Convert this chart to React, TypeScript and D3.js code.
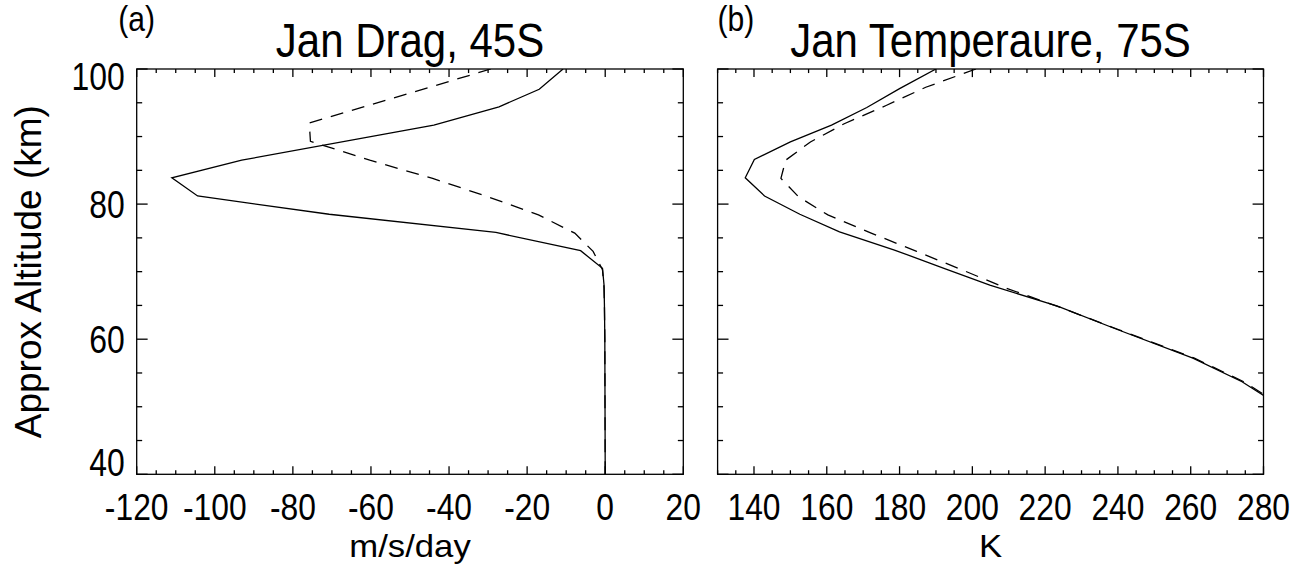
import React from 'react';
import * as d3 from 'd3';

// Axis tick values
const altitudeTicks = [40, 60, 80, 100];
const dragTicks = [-120, -100, -80, -60, -40, -20, 0, 20];
const tempTicks = [140, 160, 180, 200, 220, 240, 260, 280];

// Panel (a): January gravity-wave drag at 45S (m/s/day)
const dragSolidAlt = [100, 97.0, 94.4, 91.7, 86.5, 83.9, 81.2, 78.5, 75.8, 73.1, 70.5, 68.0, 65.0, 60.0, 50.0, 40.0];
const dragSolidVal = [-10.8, -16.9, -27.2, -43.9, -93.1, -111.0, -104.4, -70.7, -28.0, -6.3, -0.7, -0.3, -0.2, -0.1, -0.05, 0];
const dragDashAlt = [100, 92.0, 89.3, 86.5, 83.8, 81.1, 78.4, 75.7, 73.0, 70.3, 67.6, 65.0, 60.0, 50.0, 40.0];
const dragDashVal = [-29.3, -75.8, -75.5, -60.3, -44.2, -30.1, -17.1, -7.8, -3.1, -0.7, -0.3, -0.2, -0.1, -0.05, 0];

// Panel (b): January temperature at 75S (K)
const tempSolidAlt = [100, 97.1, 94.3, 91.7, 89.2, 86.6, 83.9, 81.2, 78.5, 75.9, 73.2, 70.5, 68.0, 64.9, 61.4, 57.2, 53.7, 51.0];
const tempSolidVal = [190, 180, 171, 161.3, 150, 140.1, 137.6, 142.9, 152.6, 163.5, 178.6, 192.2, 204.8, 223.4, 240, 260.6, 274.1, 282];
const tempDashAlt = [100, 97.3, 94.6, 91.9, 89.2, 86.5, 83.8, 81.1, 78.4, 75.7, 73.0, 70.3, 67.6, 64.9, 61.4, 57.2, 53.7, 51.0];
const tempDashVal = [201, 187.2, 176.3, 164.8, 155.5, 148.7, 147.4, 152.2, 160.3, 172.2, 184.7, 197.0, 209.1, 223.2, 240.3, 261.0, 274.6, 282.5];

const W = 1305;
const H = 565;
const FONT = '"Liberation Sans", Arial, Helvetica, sans-serif';
const PLOT_TOP = 69;
const PLOT_BOTTOM = 474.3;
const STROKE = 1.3;

// Narrow-set text: the glyphs are squeezed horizontally by sx around the anchor point
function NText(props: {
  x: number;
  y: number;
  size: number;
  sx: number;
  anchor?: 'start' | 'middle' | 'end';
  children: React.ReactNode;
}) {
  return (
    <text
      transform={`translate(${props.x},${props.y}) scale(${props.sx},1)`}
      textAnchor={props.anchor || 'start'}
      fontSize={props.size}
      fontFamily={FONT}
      fill="#000"
    >
      {props.children}
    </text>
  );
}

type Series = { alt: number[]; val: number[]; dashed: boolean };

type PanelProps = {
  id: string;
  x0: number;
  x1: number;
  domain: [number, number];
  ticks: number[];
  series: Series[];
  title: string;
  tag: string;
  tagX: number;
  tagAnchor: 'start' | 'middle';
  xTitle: string;
  showYLabels: boolean;
};

const yScale = d3.scaleLinear().domain([40, 100]).range([PLOT_BOTTOM, PLOT_TOP]);

function Panel(p: PanelProps) {
  const xs = d3.scaleLinear().domain(p.domain).range([p.x0, p.x1]);
  const width = p.x1 - p.x0;
  const height = PLOT_BOTTOM - PLOT_TOP;
  const xMajorLen = 0.02 * height;
  const yMajorLen = 0.02 * width;
  const xMinor = d3.range(p.domain[0], p.domain[1] + 0.001, 5);
  const yMinor = d3.range(40, 100.001, 5);
  const line = d3
    .line<[number, number]>()
    .x((d) => xs(d[1]))
    .y((d) => yScale(d[0]));
  const cx = (p.x0 + p.x1) / 2;

  return (
    <g>
      <defs>
        <clipPath id={`clip-${p.id}`}>
          <rect x={p.x0} y={PLOT_TOP} width={width} height={height} />
        </clipPath>
      </defs>
      <g clipPath={`url(#clip-${p.id})`}>
        {p.series.map((s, i) => (
          <path
            key={i}
            d={line(s.alt.map((a, k) => [a, s.val[k]] as [number, number])) || ''}
            fill="none"
            stroke="#000"
            strokeWidth={STROKE}
            strokeDasharray={s.dashed ? '13,9' : undefined}
            strokeLinejoin="miter"
          />
        ))}
      </g>
      {/* x ticks, bottom and top */}
      {xMinor.map((v) => {
        const major = p.ticks.includes(v);
        const len = major ? xMajorLen : xMajorLen / 2;
        const x = xs(v);
        return (
          <g key={`xt${v}`} stroke="#000" strokeWidth={STROKE}>
            <line x1={x} x2={x} y1={PLOT_BOTTOM} y2={PLOT_BOTTOM - len} />
            <line x1={x} x2={x} y1={PLOT_TOP} y2={PLOT_TOP + len} />
          </g>
        );
      })}
      {/* y ticks, left and right */}
      {yMinor.map((v) => {
        const major = altitudeTicks.includes(v);
        const len = major ? yMajorLen : yMajorLen / 2;
        const y = yScale(v);
        return (
          <g key={`yt${v}`} stroke="#000" strokeWidth={STROKE}>
            <line x1={p.x0} x2={p.x0 + len} y1={y} y2={y} />
            <line x1={p.x1} x2={p.x1 - len} y1={y} y2={y} />
          </g>
        );
      })}
      <rect x={p.x0} y={PLOT_TOP} width={width} height={height} fill="none" stroke="#000" strokeWidth={STROKE} />
      {/* tick labels */}
      {p.ticks.map((v) => (
        <NText key={`xl${v}`} x={xs(v)} y={520} size={37} sx={0.86} anchor="middle">
          {String(v)}
        </NText>
      ))}
      {p.showYLabels &&
        altitudeTicks.map((v) => {
          const base = Math.min(Math.max(yScale(v) + 14, PLOT_TOP + 21), PLOT_BOTTOM + 2);
          return (
            <NText key={`yl${v}`} x={p.x0 - 12} y={base} size={38} sx={0.84} anchor="end">
              {String(v)}
            </NText>
          );
        })}
      <NText x={cx} y={556.5} size={31} sx={1.12} anchor="middle">
        {p.xTitle}
      </NText>
      <NText x={cx} y={57} size={48} sx={0.875} anchor="middle">
        {p.title}
      </NText>
      <NText x={p.tagX} y={31} size={35} sx={0.86} anchor={p.tagAnchor}>
        {p.tag}
      </NText>
    </g>
  );
}

export default function App() {
  return (
    <svg
      width={W}
      height={H}
      viewBox={`0 0 ${W} ${H}`}
      style={{ position: 'absolute', left: 0, top: 0, background: '#fff' }}
    >
      <rect x={0} y={0} width={W} height={H} fill="#fff" />
      <Panel
        id="drag"
        x0={136.7}
        x1={683.3}
        domain={[-120, 20]}
        ticks={dragTicks}
        series={[
          { alt: dragSolidAlt, val: dragSolidVal, dashed: false },
          { alt: dragDashAlt, val: dragDashVal, dashed: true },
        ]}
        title="Jan Drag, 45S"
        tag="(a)"
        tagX={136.7}
        tagAnchor="middle"
        xTitle="m/s/day"
        showYLabels={true}
      />
      <Panel
        id="temp"
        x0={717.6}
        x1={1263.5}
        domain={[130, 280]}
        ticks={tempTicks}
        series={[
          { alt: tempSolidAlt, val: tempSolidVal, dashed: false },
          { alt: tempDashAlt, val: tempDashVal, dashed: true },
        ]}
        title="Jan Temperaure, 75S"
        tag="(b)"
        tagX={717.6}
        tagAnchor="start"
        xTitle="K"
        showYLabels={false}
      />
      <text
        transform={`translate(41, ${(PLOT_TOP + PLOT_BOTTOM) / 2}) rotate(-90)`}
        textAnchor="middle"
        fontSize={37}
        fontFamily={FONT}
      >
        Approx Altitude (km)
      </text>
    </svg>
  );
}
